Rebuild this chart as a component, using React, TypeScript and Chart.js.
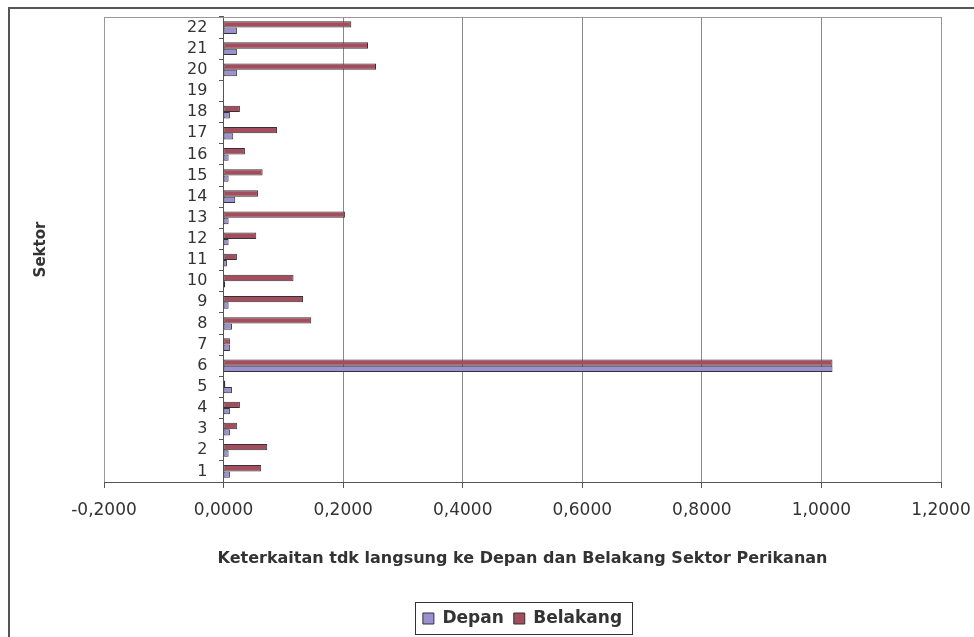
import React, { useEffect, useRef } from 'react';
import { Chart, registerables } from 'chart.js';

Chart.register(...registerables);

const sectors = ['1', '2', '3', '4', '5', '6', '7', '8', '9', '10', '11', '12', '13', '14', '15', '16', '17', '18', '19', '20', '21', '22'];
const depan = [0.0106, 0.0084, 0.0106, 0.0106, 0.014, 1.0185, 0.0106, 0.014, 0.0084, 0.0028, 0.0056, 0.0084, 0.0084, 0.0195, 0.0084, 0.0084, 0.0162, 0.0106, 0, 0.0223, 0.0223, 0.0223];
const belakang = [0.063, 0.073, 0.0223, 0.0273, 0.003, 1.0185, 0.0106, 0.1467, 0.133, 0.117, 0.0223, 0.0547, 0.203, 0.0575, 0.0653, 0.0357, 0.0893, 0.0273, 0, 0.255, 0.2416, 0.2137];
const xMin = -0.2;
const xMax = 1.2;
const xStep = 0.2;
const seriesNames = ['Depan', 'Belakang'];
const yTitle = 'Sektor';
const xTitle = 'Keterkaitan tdk langsung ke Depan dan Belakang Sektor Perikanan';

const FONT = "'DejaVu Sans', 'Liberation Sans', Arial, sans-serif";

const decorPlugin = {
  id: 'decor',
  beforeDraw(chart: any) {
    const ctx = chart.ctx;
    ctx.save();
    ctx.fillStyle = '#ffffff';
    ctx.fillRect(0, 0, chart.width, chart.height);
    ctx.strokeStyle = '#555555';
    ctx.lineWidth = 2;
    ctx.beginPath();
    ctx.moveTo(9, chart.height);
    ctx.lineTo(9, 8);
    ctx.lineTo(chart.width, 8);
    ctx.stroke();
    ctx.restore();
  },
  beforeDatasetsDraw(chart: any) {
    const { ctx, chartArea } = chart;
    ctx.save();
    ctx.strokeStyle = '#a09494';
    ctx.lineWidth = 1;
    ctx.beginPath();
    ctx.moveTo(chartArea.left, Math.round(chartArea.top) + 0.5);
    ctx.lineTo(chartArea.right, Math.round(chartArea.top) + 0.5);
    ctx.stroke();
    ctx.restore();
  },
  afterDraw(chart: any) {
    const lg = chart.legend;
    if (!lg || !lg.legendHitBoxes || !lg.legendHitBoxes.length) return;
    const hb = lg.legendHitBoxes;
    const l = Math.min(...hb.map((h: any) => h.left)) - 8;
    const r = Math.max(...hb.map((h: any) => h.left + h.width)) + 10;
    const t = hb[0].top - 8;
    const b = hb[0].top + hb[0].height + 7;
    const ctx = chart.ctx;
    ctx.save();
    ctx.strokeStyle = '#333333';
    ctx.lineWidth = 1;
    ctx.strokeRect(Math.round(l) + 0.5, Math.round(t) + 0.5, Math.round(r - l), Math.round(b - t));
    ctx.restore();
  },
};

export default function App() {
  const ref = useRef<HTMLCanvasElement | null>(null);

  useEffect(() => {
    if (!ref.current) return;
    const chart = new Chart(ref.current, {
      type: 'bar',
      data: {
        labels: sectors,
        datasets: [
          {
            label: seriesNames[1],
            data: belakang,
            backgroundColor: '#a34d5e',
            borderColor: '#333333',
            borderWidth: 1,
            borderSkipped: false,
            categoryPercentage: 0.6,
            barPercentage: 1.0,
          },
          {
            label: seriesNames[0],
            data: depan,
            backgroundColor: '#9a90d2',
            borderColor: '#333333',
            borderWidth: 1,
            borderSkipped: false,
            categoryPercentage: 0.6,
            barPercentage: 1.0,
          },
        ],
      },
      plugins: [decorPlugin],
      options: {
        indexAxis: 'y',
        animation: false,
        responsive: false,
        devicePixelRatio: 1,
        layout: { padding: { top: 17, right: 33, left: 0, bottom: 0 } },
        scales: {
          x: {
            type: 'linear',
            min: xMin,
            max: xMax,
            ticks: {
              stepSize: xStep,
              font: { family: FONT, size: 17 },
              color: '#333333',
              padding: 12,
              callback: (v: any) => {
                const n = Math.abs(Number(v)) < 1e-9 ? 0 : Number(v);
                return n.toFixed(4).replace('.', ',');
              },
            },
            grid: {
              color: (c: any) => {
                const v = c.tick ? c.tick.value : 0;
                if (Math.abs(v) < 1e-9) return '#555555';
                if (Math.abs(v - xMin) < 1e-9 || Math.abs(v - xMax) < 1e-9) return '#a09494';
                return '#888888';
              },
              lineWidth: 1,
              drawTicks: true,
              tickLength: 6,
              tickColor: '#555555',
            },
            border: { display: true, color: '#555555', width: 1 },
            title: {
              display: true,
              text: xTitle,
              font: { family: FONT, size: 16, weight: 'bold' },
              color: '#333333',
              padding: { top: 0, bottom: 32 },
            },
            afterFit: (s: any) => {
              s.height = 118;
              s.paddingLeft = 0;
              s.paddingRight = 0;
            },
          },
          y: {
            type: 'category',
            reverse: true,
            offset: true,
            grid: { display: false, drawTicks: false },
            border: { display: false },
            ticks: {
              autoSkip: false,
              mirror: true,
              crossAlign: 'far',
              font: { family: FONT, size: 16 },
              color: '#333333',
              padding: 83,
            },
            title: {
              display: true,
              text: yTitle,
              font: { family: FONT, size: 15, weight: 'bold' },
              color: '#333333',
              padding: { top: 32, bottom: 0 },
            },
            afterFit: (s: any) => {
              s.width = 104;
              s.paddingTop = 0;
              s.paddingBottom = 0;
            },
          },
          y2: {
            type: 'category',
            reverse: true,
            offset: true,
            position: { x: 0 },
            grid: {
              offset: true,
              drawOnChartArea: false,
              drawTicks: true,
              tickLength: 5,
              tickColor: '#555555',
            },
            border: { display: false },
            ticks: { display: false, autoSkip: false },
            afterFit: (s: any) => {
              s.paddingTop = 0;
              s.paddingBottom = 0;
            },
          },
        },
        plugins: {
          legend: {
            position: 'bottom',
            fullSize: false,
            reverse: true,
            labels: {
              boxWidth: 11,
              boxHeight: 11,
              padding: 10,
              color: '#333333',
              font: { family: FONT, size: 17, weight: 'bold' },
            },
          },
          tooltip: { enabled: false },
        },
      } as any,
    });
    return () => chart.destroy();
  }, []);

  return (
    <div style={{ position: 'absolute', left: 0, top: 0, width: 974, height: 637, background: '#fff' }}>
      <canvas ref={ref} width={974} height={637} style={{ display: 'block', width: 974, height: 637 }} />
    </div>
  );
}
